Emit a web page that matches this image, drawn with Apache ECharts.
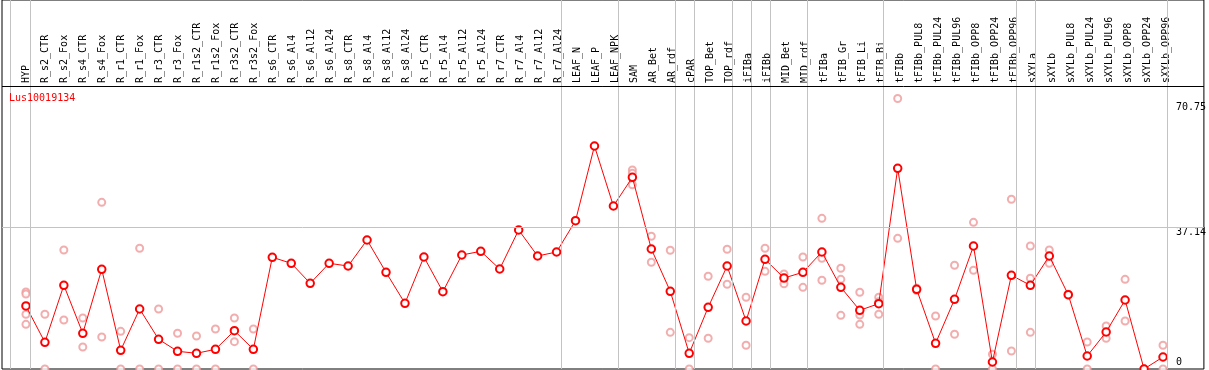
<!DOCTYPE html>
<html><head><meta charset="utf-8">
<script src="https://cdn.jsdelivr.net/npm/echarts@6/dist/echarts.min.js"></script>
<style>html,body{margin:0;padding:0;background:#fff}#c{width:1209px;height:370px}</style>
</head><body><div id="c"></div>
<script>
const geneName = 'Lus10019134';
const categories = ['HYP','R_s2_CTR','R_s2_Fox','R_s4_CTR','R_s4_Fox','R_r1_CTR','R_r1_Fox','R_r3_CTR','R_r3_Fox','R_r1s2_CTR','R_r1s2_Fox','R_r3s2_CTR','R_r3s2_Fox',
  'R_s6_CTR','R_s6_Al4','R_s6_Al12','R_s6_Al24','R_s8_CTR','R_s8_Al4','R_s8_Al12','R_s8_Al24','R_r5_CTR','R_r5_Al4','R_r5_Al12','R_r5_Al24','R_r7_CTR','R_r7_Al4','R_r7_Al12','R_r7_Al24',
  'LEAF_N','LEAF_P','LEAF_NPK','SAM','AR_Bet','AR_rdf','cPAR','TOP_Bet','TOP_rdf','iFIBa','iFIBb','MID_Bet','MID_rdf','tFIBa','tFIB_Gr','tFIB_Li','tFIB_Bi',
  'tFIBb','tFIBb_PUL8','tFIBb_PUL24','tFIBb_PUL96','tFIBb_OPP8','tFIBb_OPP24','tFIBb_OPP96','sXYLa','sXYLb','sXYLb_PUL8','sXYLb_PUL24','sXYLb_PUL96','sXYLb_OPP8','sXYLb_OPP24','sXYLb_OPP96'];
const means = [16.54, 7.01, 21.97, 9.37, 26.17, 4.91, 15.75, 7.80, 4.65, 4.12, 5.17, 10.05, 5.17,
  29.32, 27.74, 22.49, 27.74, 27.03, 33.86, 25.38, 17.24, 29.40, 20.29, 29.92, 30.89, 26.25, 36.48, 29.66, 30.71,
  38.92, 58.53, 42.78, 50.31, 31.50, 20.39, 4.12, 16.19, 27.03, 12.60, 28.79, 23.88, 25.38, 30.71, 21.44, 15.41, 17.14,
  52.68, 20.92, 6.75, 18.29, 32.28, 1.84, 24.59, 21.97, 29.66, 19.50, 3.41, 9.71, 18.11, 0, 3.15];
const replicates = [
  [20.21, 19.69, 14.36, 11.73], [14.36, 0], [31.23, 12.86], [13.39, 5.77], [43.75, 8.40], [9.89, 0], [31.68, 0], [15.75, 0], [9.37, 0], [8.66, 0], [10.50, 0], [13.39, 7.17], [10.50, 0],
  [], [], [], [], [], [], [], [], [], [], [], [], [], [], [], [],
  [], [], [], [52.23, 51.36, 48.37], [34.83, 28.01], [31.16, 9.63], [8.22, 0], [24.33, 8.06], [31.42, 22.23], [18.82, 6.22], [31.68, 25.64], [24.93, 22.39], [29.40, 21.44],
  [39.55, 29.06, 23.28], [26.43, 23.54, 14.09], [20.13, 14.17, 11.73], [18.82, 17.66, 14.36],
  [71.0, 34.30], [20.6, 21.2], [13.91, 0], [27.22, 9.11], [38.50, 25.91], [3.86, 0], [44.54, 4.72], [32.28, 23.81, 9.63], [31.23, 27.74], [19.4, 19.6], [7.09, 0], [11.29, 8.06], [23.54, 12.60], [0, 0], [6.22, 0]
];
const groupEnds = [0, 28, 31, 34, 35, 37, 38, 39, 41, 45, 52, 53, 60];
const yTicks = [0, 37.14, 70.75];

const FONT = "'DejaVu Sans Mono', monospace";
const PX = 19;              // px per category
const GRID_L = 2, GRID_W = 1205, FIRST_X = 26;
const xMin = -(FIRST_X - GRID_L) / PX;
const xMax = xMin + GRID_W / PX;
const K = 3.81;             // px per unit
const yMax = 369 / K;
const headerLine = (369 - 86) / K;

const repData = [];
replicates.forEach((arr, i) => arr.forEach(v => repData.push([i, v])));
const meanData = means.map((v, i) => [i, v]);

const gray = '#c3c3c3';
const vLines = [{xAxis: (10 - FIRST_X) / PX}].concat(groupEnds.map(i => ({xAxis: i + 0.25})))
  .map(d => Object.assign(d, {lineStyle: {color: gray, width: 1, type: 'solid'}}));
const hLines = [
  {yAxis: yTicks[1], lineStyle: {color: gray, width: 1, type: 'solid'}},
  {yAxis: headerLine, lineStyle: {color: '#000', width: 1, type: 'solid'}}
];

const chart = echarts.init(document.getElementById('c'), null, {renderer: 'canvas'});
chart.setOption({
  animation: false,
  title: {text: geneName, left: 9, top: 93, padding: 0,
    textStyle: {color: '#ff0000', fontSize: 10, fontWeight: 'normal', fontFamily: FONT}},
  grid: [
    {left: GRID_L, right: 2, top: 0, bottom: 1, show: true, borderColor: '#000', borderWidth: 1, backgroundColor: 'transparent'},
    {left: FIRST_X - PX / 2, width: PX * categories.length, top: 86, height: 1}
  ],
  xAxis: [
    {gridIndex: 0, type: 'value', min: xMin, max: xMax, show: false},
    {gridIndex: 1, type: 'category', data: categories, position: 'top', boundaryGap: true,
     axisLine: {show: false}, axisTick: {show: false},
     axisLabel: {rotate: 90, interval: 0, margin: 3, fontSize: 10, color: '#000', fontFamily: FONT}}
  ],
  yAxis: [
    {gridIndex: 0, type: 'value', min: 0, max: yMax, position: 'right',
     axisLine: {show: false}, axisTick: {show: false}, splitLine: {show: false},
     axisLabel: {inside: true, margin: 28, align: 'left', customValues: yTicks, color: '#000', fontSize: 10, fontFamily: FONT,
       formatter: v => (v === 0 ? '{b|0}' : (v === yTicks[1] ? '{m|' + v + '}' : '{t|' + v + '}')),
       rich: {
         b: {fontSize: 10, fontFamily: FONT, color: '#000', padding: [0, 0, 14, 0]},
         m: {fontSize: 10, fontFamily: FONT, color: '#000', padding: [10, 0, 0, 0]},
         t: {fontSize: 10, fontFamily: FONT, color: '#000', padding: [15, 0, 0, 0]}
       }}},
    {gridIndex: 1, type: 'value', show: false}
  ],
  series: [
    {type: 'scatter', xAxisIndex: 0, yAxisIndex: 0, data: repData, z: 2,
     symbol: 'emptyCircle', symbolSize: 7,
     itemStyle: {color: '#ef9a9a', borderColor: '#ef9a9a', borderWidth: 1.3},
     markLine: {silent: true, symbol: 'none', label: {show: false}, animation: false,
       data: vLines.concat(hLines)}},
    {type: 'line', xAxisIndex: 0, yAxisIndex: 0, data: meanData, z: 3,
     symbol: 'emptyCircle', symbolSize: 7.5,
     lineStyle: {color: '#ff0000', width: 1},
     itemStyle: {color: '#ff0000', borderColor: '#ff0000', borderWidth: 1.4}}
  ]
});
</script></body></html>
